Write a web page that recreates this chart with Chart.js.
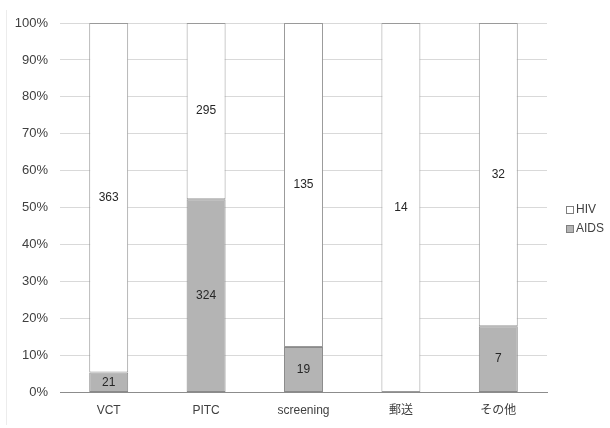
<!DOCTYPE html>
<html lang="ja">
<head>
    <meta charset="UTF-8">
    <title>HIV / AIDS 100% stacked bar</title>
    <script src="https://cdn.jsdelivr.net/npm/chart.js"></script>
    <style>
        html, body { margin: 0; padding: 0; background: #fff; }
        .wrap { position: relative; width: 610px; height: 428px; }
        .wrap::before {
            content: ''; position: absolute; left: 6px; top: 10px; bottom: 3px;
            border-left: 1px solid #ececec;
        }
    </style>
</head>
<body>
<div class="wrap">
    <canvas id="myChart" width="610" height="428"></canvas>
</div>
<script>
    const categories = ['VCT', 'PITC', 'screening', '郵送', 'その他'];
    const aidsCounts = [21, 324, 19, 0, 7];
    const hivCounts = [363, 295, 135, 14, 32];
    const yTicks = [0, 10, 20, 30, 40, 50, 60, 70, 80, 90, 100];

    const FONT = "'Liberation Sans', 'Noto Sans CJK JP', sans-serif";

    // convert counts to share of each category total
    const totals = categories.map((c, i) => aidsCounts[i] + hivCounts[i]);
    const aidsPct = aidsCounts.map((v, i) => v / totals[i] * 100);
    const hivPct = hivCounts.map((v, i) => v / totals[i] * 100);

    // write the raw count in the middle of each segment
    const countLabels = {
        id: 'countLabels',
        afterDatasetsDraw(chart) {
            const ctx = chart.ctx;
            ctx.save();
            ctx.font = '12px ' + FONT;
            ctx.fillStyle = '#262626';
            ctx.textAlign = 'center';
            ctx.textBaseline = 'middle';
            chart.data.datasets.forEach((ds, di) => {
                const meta = chart.getDatasetMeta(di);
                meta.data.forEach((bar, i) => {
                    const n = ds.counts[i];
                    if (!n) return;
                    ctx.fillText(String(n), bar.x, (bar.y + bar.base) / 2);
                });
            });
            ctx.restore();
        }
    };

    // simple legend to the right of the plot, HIV on top
    const sideLegend = {
        id: 'sideLegend',
        afterDraw(chart) {
            const ctx = chart.ctx;
            const area = chart.chartArea;
            const x = area.right + 19;
            const midY = (area.top + area.bottom) / 2 + 12;
            const items = chart.data.datasets.slice().reverse();
            ctx.save();
            ctx.font = '12px ' + FONT;
            ctx.textBaseline = 'middle';
            items.forEach((ds, k) => {
                const y = Math.round(midY + (k - (items.length - 1) / 2) * 19);
                ctx.fillStyle = ds.backgroundColor;
                ctx.fillRect(x + 0.5, y - 3.5, 7, 7);
                ctx.strokeStyle = '#7f7f7f';
                ctx.lineWidth = 1;
                ctx.strokeRect(x + 0.5, y - 3.5, 7, 7);
                ctx.fillStyle = '#404040';
                ctx.fillText(ds.label, x + 10, y);
            });
            ctx.restore();
        }
    };

    new Chart(document.getElementById('myChart'), {
        type: 'bar',
        data: {
            labels: categories,
            datasets: [
                {
                    label: 'AIDS',
                    data: aidsPct,
                    counts: aidsCounts,
                    backgroundColor: '#b4b4b4',
                    borderColor: '#8a8a8a',
                    borderWidth: ctx => (ctx.raw ? 1 : 0),
                    borderSkipped: false
                },
                {
                    label: 'HIV',
                    data: hivPct,
                    counts: hivCounts,
                    backgroundColor: '#ffffff',
                    borderColor: '#9a9a9a',
                    borderWidth: 1,
                    borderSkipped: false
                }
            ]
        },
        options: {
            responsive: false,
            animation: false,
            layout: { padding: { left: 8, top: 23, right: 63, bottom: -1 } },
            datasets: { bar: { barPercentage: 0.8, categoryPercentage: 0.5 } },
            scales: {
                x: {
                    stacked: true,
                    grid: { display: false, drawTicks: false },
                    border: { color: '#8c8c8c', width: 1 },
                    ticks: { color: '#404040', font: { size: 12, family: FONT }, padding: 11 }
                },
                y: {
                    stacked: true,
                    min: 0,
                    max: 100,
                    afterBuildTicks(axis) { axis.ticks = yTicks.map(v => ({ value: v })); },
                    afterFit(axis) { axis.width = 52; },
                    grid: { color: '#d9d9d9', drawTicks: false },
                    border: { display: false },
                    ticks: {
                        color: '#404040',
                        font: { size: 13, family: FONT },
                        padding: 12,
                        callback: v => v + '%'
                    }
                }
            },
            plugins: {
                legend: { display: false },
                tooltip: { enabled: false }
            }
        },
        plugins: [countLabels, sideLegend]
    });
</script>
</body>
</html>
